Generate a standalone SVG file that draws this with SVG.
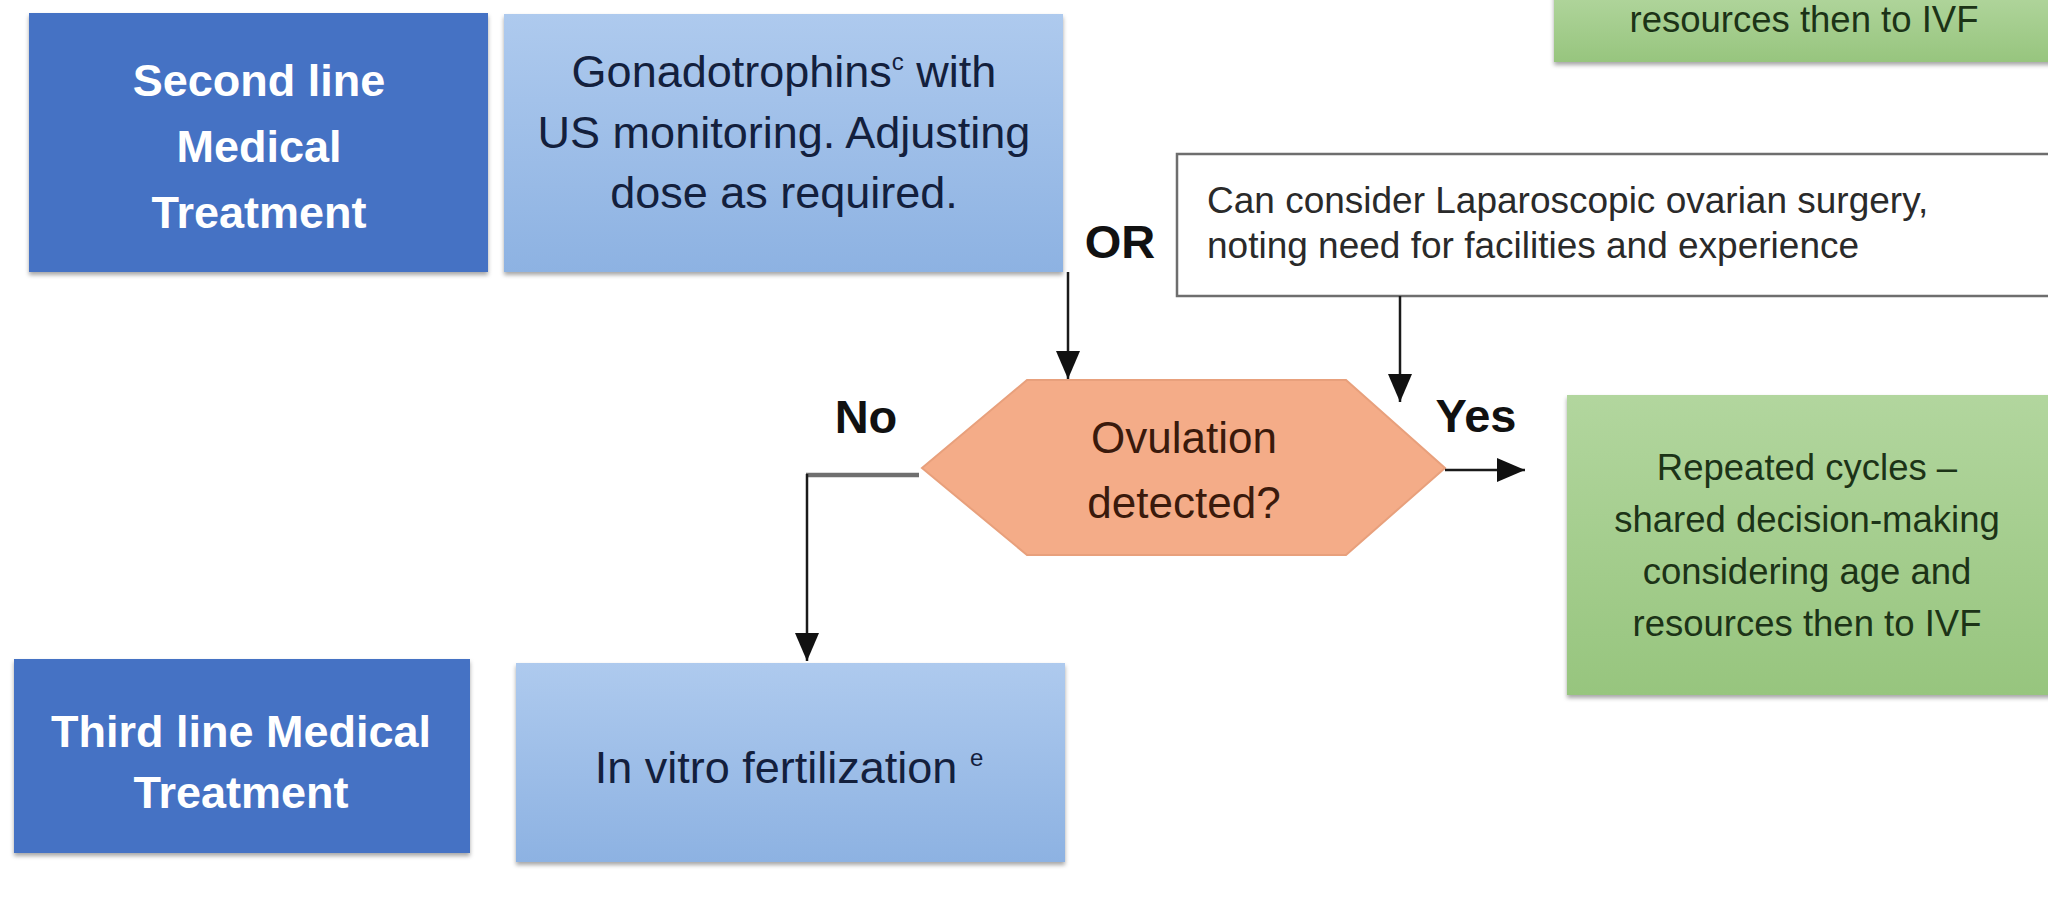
<svg xmlns="http://www.w3.org/2000/svg" width="2048" height="915" viewBox="0 0 2048 915">
  <style>
    .dark { fill: #4472C4; }
    .light { fill: url(#gLight); }
    .green { fill: url(#gGreen); }
    .hdr { font-family: "Liberation Sans", Arial, sans-serif; font-weight: bold; font-size: 45px; fill: #FFFFFF; text-anchor: middle; }
    .body { font-family: "Liberation Sans", Arial, sans-serif; font-size: 45px; fill: #13203D; text-anchor: middle; }
    .gtxt { font-family: "Liberation Sans", Arial, sans-serif; font-size: 36.5px; fill: #1C3317; text-anchor: middle; }
    .ltxt { font-family: "Liberation Sans", Arial, sans-serif; font-size: 37px; fill: #2A2A2A; }
    .htxt { font-family: "Liberation Sans", Arial, sans-serif; font-size: 44px; fill: #3A1A0C; text-anchor: middle; }
    .lbl { font-family: "Liberation Sans", Arial, sans-serif; font-weight: bold; font-size: 47px; fill: #111111; text-anchor: middle; }
    .conn { fill: none; stroke: #1A1A1A; stroke-width: 2.5; }
  </style>
  <defs>
    <linearGradient id="gLight" x1="0" y1="0" x2="0" y2="1">
      <stop offset="0" stop-color="#AECAEE"/>
      <stop offset="1" stop-color="#8DB2E2"/>
    </linearGradient>
    <linearGradient id="gGreen" x1="0" y1="0" x2="0" y2="1">
      <stop offset="0" stop-color="#B2D69E"/>
      <stop offset="1" stop-color="#97C57E"/>
    </linearGradient>
    <filter id="sh" x="-5%" y="-5%" width="110%" height="115%">
      <feDropShadow dx="0" dy="3" stdDeviation="2" flood-color="#000000" flood-opacity="0.35"/>
    </filter>
    <marker id="arr" markerUnits="userSpaceOnUse" markerWidth="30" markerHeight="26" refX="28" refY="12" orient="auto">
      <path d="M0,0 L28,12 L0,24 Z" fill="#111111"/>
    </marker>
  </defs>

  <rect width="2048" height="915" fill="#FFFFFF"/>

  <g id="second-line-label">
    <rect x="29" y="13" width="459" height="259" class="dark" filter="url(#sh)"/>
    <text class="hdr" x="259" y="96">Second line</text>
    <text class="hdr" x="259" y="162">Medical</text>
    <text class="hdr" x="259" y="228">Treatment</text>
  </g>

  <g id="gonadotrophins">
    <rect x="504" y="14" width="559" height="258" class="light" filter="url(#sh)"/>
    <text class="body" x="784" y="87">Gonadotrophins<tspan dy="-17" font-size="24">c</tspan><tspan dy="17"> with</tspan></text>
    <text class="body" x="784" y="148">US monitoring. Adjusting</text>
    <text class="body" x="784" y="208">dose as required.</text>
  </g>

  <g id="repeated-cycles-top">
    <rect x="1554" y="-10" width="500" height="72" class="green" filter="url(#sh)"/>
    <text class="gtxt" x="1804" y="32">resources then to IVF</text>
  </g>

  <g id="or-label">
    <text class="lbl" x="1120" y="258">OR</text>
  </g>

  <g id="laparoscopic">
    <rect x="1177" y="154" width="880" height="142" fill="#FFFFFF" stroke="#6E6E6E" stroke-width="2.5"/>
    <text class="ltxt" x="1207" y="213">Can consider Laparoscopic ovarian surgery,</text>
    <text class="ltxt" x="1207" y="258">noting need for facilities and experience</text>
  </g>

  <g id="ovulation-decision">
    <polygon points="922,468 1027,380 1346,380 1445,468 1346,555 1027,555" fill="#F4AC88" stroke="#E8A07C" stroke-width="2"/>
    <text class="htxt" x="1184" y="453">Ovulation</text>
    <text class="htxt" x="1184" y="518">detected?</text>
  </g>

  <g id="no-label">
    <text class="lbl" x="866" y="433">No</text>
  </g>

  <g id="yes-label">
    <text class="lbl" x="1476" y="432">Yes</text>
  </g>

  <g id="repeated-cycles">
    <rect x="1567" y="395" width="490" height="300" class="green" filter="url(#sh)"/>
    <text class="gtxt" x="1807" y="480">Repeated cycles –</text>
    <text class="gtxt" x="1807" y="532">shared decision-making</text>
    <text class="gtxt" x="1807" y="584">considering age and</text>
    <text class="gtxt" x="1807" y="636">resources then to IVF</text>
  </g>

  <g id="third-line-label">
    <rect x="14" y="659" width="456" height="194" class="dark" filter="url(#sh)"/>
    <text class="hdr" x="241" y="747">Third line Medical</text>
    <text class="hdr" x="241" y="808">Treatment</text>
  </g>

  <g id="ivf">
    <rect x="516" y="663" width="549" height="199" class="light" filter="url(#sh)"/>
    <text class="body" x="789" y="783" font-size="44">In vitro fertilization <tspan dy="-17" font-size="24">e</tspan></text>
  </g>

  <g id="connectors">
    <line class="conn" x1="1068" y1="272" x2="1068" y2="379" marker-end="url(#arr)"/>
    <line class="conn" x1="1400" y1="296" x2="1400" y2="402" marker-end="url(#arr)"/>
    <line class="conn" x1="1445" y1="470" x2="1525" y2="470" marker-end="url(#arr)"/>
    <line x1="919" y1="475" x2="806" y2="475" stroke="#6F6F6F" stroke-width="4.5"/>
    <line class="conn" x1="807" y1="474" x2="807" y2="661" marker-end="url(#arr)"/>
  </g>
</svg>
